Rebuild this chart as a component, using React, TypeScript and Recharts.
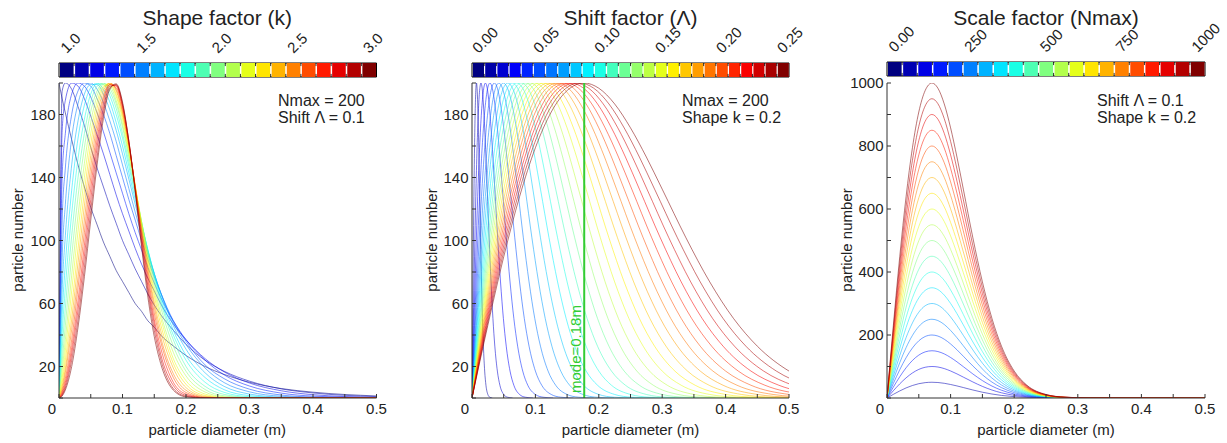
import React from 'react';
import { LineChart, Line, XAxis, YAxis, ReferenceLine, BarChart, Bar, Cell, ReferenceArea, LabelList } from 'recharts';

const FONT = '"Liberation Sans", Arial, Helvetica, sans-serif';
const TEXT = '#222';
const AXIS = '#333';

// ---------- shared axis data ----------
const diameterTicks = [0, 0.05, 0.1, 0.15, 0.2, 0.25, 0.3, 0.35, 0.4, 0.45, 0.5];
const diameterTickLabels = ['0', '', '0.1', '', '0.2', '', '0.3', '', '0.4', '', '0.5'];
const countTicks200 = [0, 20, 40, 60, 80, 100, 120, 140, 160, 180, 200];
const countLabels200 = [20, 60, 100, 140, 180];
const countTicks1000 = [0, 100, 200, 300, 400, 500, 600, 700, 800, 900, 1000];
const countLabels1000 = [200, 400, 600, 800, 1000];

// ---------- panel 1 : shape factor k ----------
const shapeLevels = [1.0, 1.1, 1.2, 1.3, 1.4, 1.5, 1.6, 1.7, 1.8, 1.9, 2.0, 2.1, 2.2, 2.3, 2.4, 2.5, 2.6, 2.7, 2.8, 2.9, 3.0];
const shapeBarLabels = ['1.0', '1.5', '2.0', '2.5', '3.0'];
const shapeBarLabelIdx = [0, 5, 10, 15, 20];
const shapeDiameters = [0, 0.005, 0.01, 0.02, 0.03, 0.04, 0.05, 0.06, 0.07, 0.08, 0.09, 0.10, 0.11, 0.12, 0.13, 0.14, 0.15, 0.16, 0.18, 0.20, 0.23, 0.26, 0.30, 0.35, 0.40, 0.50];
const shapeCurves = [
  [200, 190, 181, 164, 148, 134, 121, 110, 99, 90, 81, 74, 67, 60, 55, 49, 45, 40, 33, 27, 20, 15, 10, 6, 3.7, 1.3],
  [0, 195, 200, 196, 185, 173, 159, 146, 134, 122, 111, 100, 91, 82, 74, 66, 59, 53, 43, 34, 24, 17, 10.7, 5.8, 3.2, 0.9],
  [0, 170, 189, 200, 198, 190, 179, 167, 155, 142, 129, 117, 106, 95, 85, 76, 68, 60, 47, 37, 25, 16.6, 9.5, 4.6, 2.1, 0.4],
  [0, 141, 168, 193, 200, 198, 191, 181, 169, 156, 143, 130, 117, 105, 94, 83, 73, 64, 49, 37, 24, 14.7, 7.6, 3.1, 1.2, 0.2],
  [0, 113, 146, 180, 195, 200, 198, 190, 180, 168, 154, 140, 126, 113, 100, 88, 77, 67, 49, 36, 21, 12.3, 5.6, 1.9, 0.6, 0],
  [0, 89, 123, 165, 187, 198, 200, 196, 187.5, 176, 163, 148, 133, 118, 104, 91, 79, 67, 48, 34, 19, 9.8, 3.9, 1.1, 0.3, 0],
  [0, 69, 103, 148, 176, 193, 199, 199, 193, 183, 170, 155, 139, 123, 107, 93, 79, 67, 46, 31, 16, 7.4, 2.5, 0.5, 0, 0],
  [0, 53, 85, 132, 165, 186, 197, 200, 196, 188, 175, 160, 143, 126, 110, 94, 79, 65, 43, 27, 13, 5.3, 1.5, 0.25, 0, 0],
  [0, 41, 70, 117, 152, 177, 193, 199.5, 199, 192, 180, 165, 147, 129, 111, 94, 78, 63, 40, 24, 10, 3.6, 0.8, 0.1, 0, 0],
  [0, 31, 57, 103, 140, 168, 188, 198, 200, 194.6, 184, 168, 150, 131, 112, 93, 76, 61, 37, 20, 7.4, 2.3, 0.4, 0, 0, 0],
  [0, 23, 46, 90, 128, 159, 182, 195, 200, 196.7, 187, 172, 153, 133, 112, 92, 74, 58, 33, 17, 5.4, 1.4, 0.2, 0, 0, 0],
  [0, 17.5, 37, 78, 116, 149, 175, 192, 199, 198, 189, 174, 155, 134, 112, 90, 71, 54, 29, 14, 3.8, 0.8, 0, 0, 0, 0],
  [0, 13, 30, 68, 106, 140, 168, 188, 198, 199, 191.5, 177, 157, 134, 111, 88, 68, 51, 25, 11, 2.5, 0.4, 0, 0, 0, 0],
  [0, 10, 24, 58, 95, 131, 161, 184, 197, 200, 193, 179, 158, 135, 110, 86, 65, 47, 22, 8.7, 1.6, 0.2, 0, 0, 0, 0],
  [0, 7.4, 19, 50, 86, 122, 154, 179, 195, 200, 195, 181, 160, 135, 108, 83, 61, 43, 19, 6.6, 1.0, 0.1, 0, 0, 0, 0],
  [0, 5.5, 16, 43.5, 77, 113, 147, 174, 192, 200, 196, 182, 161, 134, 107, 81, 58, 39, 15.5, 4.9, 0.6, 0, 0, 0, 0, 0],
  [0, 4.1, 12.5, 37, 70, 105, 140, 169, 190, 199, 197, 184, 161, 134, 105, 78, 54, 36, 13, 3.5, 0.3, 0, 0, 0, 0, 0],
  [0, 3.1, 10, 32, 62, 97, 133, 164, 187, 199, 198, 185, 162, 133, 103, 75, 50, 32, 10, 2.5, 0.15, 0, 0, 0, 0, 0],
  [0, 2.3, 8, 28, 56, 90, 126, 159, 184, 198, 198.6, 186, 163, 133, 101, 71, 47, 28, 8, 1.7, 0.1, 0, 0, 0, 0, 0],
  [0, 1.7, 6.4, 24, 50, 83, 119, 153, 181, 197, 199, 187, 163, 132, 98, 68, 43, 25, 6, 1.1, 0, 0, 0, 0, 0, 0],
  [0, 1.3, 5.1, 20, 45, 77, 113, 148, 177.5, 196, 199.5, 188, 163, 131, 96, 64, 39, 22, 5, 0.7, 0, 0, 0, 0, 0, 0],
];

// ---------- panel 2 : shift factor Lambda ----------
const shiftLevels = [0, 0.01, 0.02, 0.03, 0.04, 0.05, 0.06, 0.07, 0.08, 0.09, 0.10, 0.11, 0.12, 0.13, 0.14, 0.15, 0.16, 0.17, 0.18, 0.19, 0.20, 0.21, 0.22, 0.23, 0.24, 0.25];
const shiftBarLabels = ['0.00', '0.05', '0.10', '0.15', '0.20', '0.25'];
const shiftBarLabelIdx = [0, 5, 10, 15, 20, 25];
const shiftCounts = [0, 46.2, 89.6, 127.8, 158.9, 181.6, 195.2, 200, 196.7, 186.7, 171.5, 153.0, 132.6, 101.7, 73.7, 50.5, 32.9, 17.1, 8.1, 2.25, 0.51, 0];
const shiftDiameters = [
  [0, .001, .002, .003, .004, .005, .006, .00707, .008, .009, .01, .011, .012, .0135, .015, .0165, .018, .02, .022, .025, .028, .032],
  [0, .002, .004, .006, .008, .01, .012, .01414, .016, .018, .02, .022, .024, .027, .03, .033, .036, .04, .044, .05, .056, .064],
  [0, .003, .006, .009, .012, .015, .018, .02121, .024, .027, .03, .033, .036, .0405, .045, .0495, .054, .06, .066, .075, .084, .096],
  [0, .004, .008, .012, .016, .02, .024, .02828, .032, .036, .04, .044, .048, .054, .06, .066, .072, .08, .088, .1, .112, .128],
  [0, .005, .01, .015, .02, .025, .03, .03536, .04, .045, .05, .055, .06, .0675, .075, .0825, .09, .1, .11, .125, .14, .16],
  [0, .006, .012, .018, .024, .03, .036, .04243, .048, .054, .06, .066, .072, .081, .09, .099, .108, .12, .132, .15, .168, .192],
  [0, .007, .014, .021, .028, .035, .042, .0495, .056, .063, .07, .077, .084, .0945, .105, .1155, .126, .14, .154, .175, .196, .224],
  [0, .008, .016, .024, .032, .04, .048, .05657, .064, .072, .08, .088, .096, .108, .12, .132, .144, .16, .176, .2, .224, .256],
  [0, .009, .018, .027, .036, .045, .054, .06364, .072, .081, .09, .099, .108, .1215, .135, .1485, .162, .18, .198, .225, .252, .288],
  [0, .01, .02, .03, .04, .05, .06, .07071, .08, .09, .1, .11, .12, .135, .15, .165, .18, .2, .22, .25, .28, .32],
  [0, .011, .022, .033, .044, .055, .066, .07778, .088, .099, .11, .121, .132, .1485, .165, .1815, .198, .22, .242, .275, .308, .352],
  [0, .012, .024, .036, .048, .06, .072, .08485, .096, .108, .12, .132, .144, .162, .18, .198, .216, .24, .264, .3, .336, .384],
  [0, .013, .026, .039, .052, .065, .078, .09192, .104, .117, .13, .143, .156, .1755, .195, .2145, .234, .26, .286, .325, .364, .416],
  [0, .014, .028, .042, .056, .07, .084, .09899, .112, .126, .14, .154, .168, .189, .21, .231, .252, .28, .308, .35, .392, .448],
  [0, .015, .03, .045, .06, .075, .09, .10607, .12, .135, .15, .165, .18, .2025, .225, .2475, .27, .3, .33, .375, .42, .48],
  [0, .016, .032, .048, .064, .08, .096, .11314, .128, .144, .16, .176, .192, .216, .24, .264, .288, .32, .352, .4, .448, .512],
  [0, .017, .034, .051, .068, .085, .102, .12021, .136, .153, .17, .187, .204, .2295, .255, .2805, .306, .34, .374, .425, .476, .544],
  [0, .018, .036, .054, .072, .09, .108, .12728, .144, .162, .18, .198, .216, .243, .27, .297, .324, .36, .396, .45, .504, .576],
  [0, .019, .038, .057, .076, .095, .114, .13435, .152, .171, .19, .209, .228, .2565, .285, .3135, .342, .38, .418, .475, .532, .608],
  [0, .02, .04, .06, .08, .1, .12, .14142, .16, .18, .2, .22, .24, .27, .3, .33, .36, .4, .44, .5, .56, .64],
  [0, .021, .042, .063, .084, .105, .126, .14849, .168, .189, .21, .231, .252, .2835, .315, .3465, .378, .42, .462, .525, .588, .672],
  [0, .022, .044, .066, .088, .11, .132, .15556, .176, .198, .22, .242, .264, .297, .33, .363, .396, .44, .484, .55, .616, .704],
  [0, .023, .046, .069, .092, .115, .138, .16263, .184, .207, .23, .253, .276, .3105, .345, .3795, .414, .46, .506, .575, .644, .736],
  [0, .024, .048, .072, .096, .12, .144, .16971, .192, .216, .24, .264, .288, .324, .36, .396, .432, .48, .528, .6, .672, .768],
  [0, .025, .05, .075, .1, .125, .15, .17678, .2, .225, .25, .275, .3, .3375, .375, .4125, .45, .5, .55, .625, .7, .8],
];
const modeDiameter = 0.177;
const modeLabel = 'mode=0.18m';

// ---------- panel 3 : scale factor Nmax ----------
const scaleLevels = [0, 50, 100, 150, 200, 250, 300, 350, 400, 450, 500, 550, 600, 650, 700, 750, 800, 850, 900, 950, 1000];
const scaleBarLabels = ['0.00', '250', '500', '750', '1000'];
const scaleBarLabelIdx = [0, 5, 10, 15, 20];
const scaleDiameters = [0, .01, .02, .03, .04, .05, .06, .0707, .08, .09, .1, .11, .12, .135, .15, .165, .18, .2, .22, .25, .28, .32, .5];
const scaleCurves = [
  [0, 11.6, 22.4, 32, 39.7, 45.4, 48.8, 50, 49.2, 46.7, 42.9, 38.3, 33.2, 25.4, 18.4, 12.6, 8.2, 4.3, 2.0, 0.6, 0.1, 0, 0],
  [0, 23.1, 44.8, 63.9, 79.5, 90.8, 97.6, 100, 98.4, 93.4, 85.8, 76.5, 66.3, 50.9, 36.9, 25.3, 16.5, 8.6, 4.1, 1.1, 0.3, 0, 0],
  [0, 34.7, 67.2, 95.9, 119.2, 136.2, 146.4, 150, 147.5, 140, 128.6, 114.8, 99.5, 76.3, 55.3, 37.9, 24.7, 12.8, 6.1, 1.7, 0.4, 0, 0],
  [0, 46.2, 89.6, 127.8, 158.9, 181.6, 195.2, 200, 196.7, 186.7, 171.5, 153, 132.6, 101.7, 73.7, 50.5, 32.9, 17.1, 8.1, 2.3, 0.5, 0, 0],
  [0, 57.8, 112, 159.8, 198.7, 227, 244, 250, 245.9, 233.4, 214.4, 191.3, 165.8, 127.2, 92.2, 63.2, 41.2, 21.4, 10.2, 2.8, 0.7, 0, 0],
  [0, 69.3, 134.4, 191.7, 238.4, 272.4, 292.8, 300, 295.1, 280.1, 257.3, 229.5, 198.9, 152.6, 110.6, 75.8, 49.4, 25.7, 12.2, 3.4, 0.8, 0.1, 0],
  [0, 80.9, 156.8, 223.7, 278.1, 317.8, 341.6, 350, 344.3, 326.8, 300.2, 267.8, 232.1, 178, 129, 88.4, 57.6, 30, 14.2, 3.9, 0.9, 0.1, 0],
  [0, 92.4, 179.2, 255.6, 317.8, 363.2, 390.4, 400, 393.4, 373.4, 343, 306, 265.2, 203.4, 147.4, 101, 65.8, 34.2, 16.2, 4.5, 1, 0.1, 0],
  [0, 104, 201.6, 287.6, 357.6, 408.6, 439.2, 450, 442.6, 420.1, 385.9, 344.3, 298.4, 228.9, 165.9, 113.7, 74.1, 38.5, 18.3, 5, 1.2, 0.1, 0],
  [0, 115.5, 224, 319.5, 397.3, 454, 488, 500, 491.8, 466.8, 428.8, 382.5, 331.5, 254.3, 184.3, 126.3, 82.3, 42.8, 20.3, 5.6, 1.3, 0.1, 0],
  [0, 127.1, 246.4, 351.5, 437, 499.4, 536.8, 550, 541, 513.5, 471.7, 420.8, 364.7, 279.7, 202.7, 138.9, 90.5, 47.1, 22.3, 6.2, 1.4, 0.1, 0],
  [0, 138.6, 268.8, 383.4, 476.8, 544.8, 585.6, 600, 590.2, 560.2, 514.6, 459, 397.8, 305.2, 221.2, 151.6, 98.8, 51.4, 24.4, 6.7, 1.6, 0.1, 0],
  [0, 150.2, 291.2, 415.4, 516.5, 590.2, 634.4, 650, 639.3, 606.8, 557.4, 497.3, 431, 330.6, 239.6, 164.2, 107, 55.6, 26.4, 7.3, 1.7, 0.1, 0],
  [0, 161.7, 313.6, 447.3, 556.2, 635.6, 683.2, 700, 688.5, 653.5, 600.3, 535.5, 464.1, 356, 258, 176.8, 115.2, 59.9, 28.4, 7.8, 1.8, 0.1, 0],
  [0, 173.3, 336, 479.3, 596, 681, 732, 750, 737.7, 700.2, 643.2, 573.8, 497.3, 381.5, 276.5, 189.5, 123.5, 64.2, 30.5, 8.4, 2, 0.2, 0],
  [0, 184.8, 358.4, 511.2, 635.7, 726.4, 780.8, 800, 786.9, 746.9, 686.1, 612, 530.4, 406.9, 294.9, 202.1, 131.7, 68.5, 32.5, 9, 2.1, 0.2, 0],
  [0, 196.4, 380.8, 543.2, 675.4, 771.8, 829.6, 850, 836.1, 793.6, 729, 650.3, 563.6, 432.3, 313.3, 214.7, 139.9, 72.8, 34.5, 9.5, 2.2, 0.2, 0],
  [0, 207.9, 403.2, 575.1, 715.1, 817.2, 878.4, 900, 885.2, 840.2, 771.8, 688.5, 596.7, 457.7, 331.7, 227.3, 148.1, 77, 36.5, 10.1, 2.3, 0.2, 0],
  [0, 219.5, 425.6, 607.1, 754.9, 862.6, 927.2, 950, 934.4, 886.9, 814.7, 726.8, 629.9, 483.2, 350.2, 240, 156.4, 81.3, 38.6, 10.6, 2.5, 0.2, 0],
  [0, 231, 448, 639, 794.6, 908, 976, 1000, 983.6, 933.6, 857.6, 765, 663, 508.6, 368.6, 252.6, 164.6, 85.6, 40.6, 11.2, 2.6, 0.2, 0],
];

// ---------- styling helpers ----------
function jet(t: number): string {
  const c = (v: number) => Math.round(255 * Math.max(0, Math.min(1, v)));
  return `rgb(${c(1.5 - Math.abs(4 * t - 3))},${c(1.5 - Math.abs(4 * t - 2))},${c(1.5 - Math.abs(4 * t - 1))})`;
}

const PLOT_TOP = 83;
const PLOT_BOTTOM = 398;
const H = 443;

const renderXTick = (props: any) => {
  const { x, y, payload } = props;
  const i = diameterTicks.findIndex((t) => Math.abs(t - payload.value) < 1e-9);
  const label = i >= 0 ? diameterTickLabels[i] : '';
  if (!label) return <g />;
  return (
    <text x={x + (payload.value === 0 ? -7 : 0)} y={y} dy="0.71em" textAnchor="middle" fontSize={15} fontFamily={FONT} fill={TEXT}>
      {label}
    </text>
  );
};

const makeYTick = (labels: number[]) => (props: any) => {
  const { x, y, payload } = props;
  if (!labels.includes(payload.value)) return <g />;
  return (
    <text x={x} y={y} dy="0.36em" textAnchor="end" fontSize={15} fontFamily={FONT} fill={TEXT}>
      {payload.value}
    </text>
  );
};

type Series = { color: string; data: { x: number; y: number }[] };

function Panel(props: { left: number; right: number; yMax: number; yTicks: number[]; yLabels: number[]; series: Series[]; children?: React.ReactNode }) {
  const { left, right, yMax, yTicks, yLabels, series, children } = props;
  const YW = 60;
  const RM = 12;
  const w = YW + (right - left) + RM;
  return (
    <div style={{ position: 'absolute', left: left - YW, top: 0 }}>
      <LineChart width={w} height={H} margin={{ top: PLOT_TOP, right: RM, bottom: H - PLOT_BOTTOM - 30, left: 0 }}>
        <XAxis xAxisId="b" dataKey="x" type="number" domain={[0, 0.5]} ticks={diameterTicks} interval={0} allowDataOverflow orientation="bottom" height={30} tickSize={-4} tickMargin={9} stroke={AXIS} tick={renderXTick} />
        <XAxis xAxisId="t" dataKey="x" type="number" domain={[0, 0.5]} ticks={diameterTicks} interval={0} allowDataOverflow orientation="top" height={0} tickSize={-4} tick={false} stroke={AXIS} />
        <YAxis yAxisId="l" type="number" domain={[0, yMax]} ticks={yTicks} interval={0} allowDataOverflow width={YW} tickSize={-4} tickMargin={7.5} tick={makeYTick(yLabels)} stroke={AXIS} />
        <YAxis yAxisId="r" orientation="right" type="number" domain={[0, yMax]} ticks={yTicks} interval={0} allowDataOverflow width={0} tickSize={-4} tick={false} stroke={AXIS} />
        {series.map((s, i) => (
          <Line key={i} xAxisId="b" yAxisId="l" data={s.data} dataKey="y" type="monotone" stroke={s.color} strokeWidth={0.9} strokeOpacity={0.6} dot={false} activeDot={false} isAnimationActive={false} />
        ))}
        {children}
      </LineChart>
    </div>
  );
}

function ColorBar(props: { left: number; right: number; top: number; bottom: number; levels: number[]; labels: string[]; labelIdx: number[] }) {
  const { left, right, top, bottom, levels, labels, labelIdx } = props;
  const n = levels.length;
  const PL = 12;
  const PR = 40;
  const cellW = (right - left) / n;
  const data = levels.map((v, i) => {
    const k = labelIdx.indexOf(i);
    return { pos: i + 0.5, one: 1, level: v, tag: k >= 0 ? labels[k] : '' };
  });
  const boundaries = levels.slice(1).map((_, i) => i + 1);
  const renderLabel = (p: any) => {
    if (!p.value) return <g />;
    const ax = Number(p.x) + Number(p.width) / 2;
    const ay = top - 9;
    return (
      <text x={ax} y={ay} transform={`rotate(-45 ${ax} ${ay})`} textAnchor="start" fontSize={15} fontFamily={FONT} fill={TEXT}>
        {p.value}
      </text>
    );
  };
  return (
    <div style={{ position: 'absolute', left: left - PL, top: 0 }}>
      <BarChart width={right - left + PL + PR} height={bottom + 2} data={data} margin={{ top, right: PR, bottom: 2, left: PL }} barGap={0} barCategoryGap={0}>
        <XAxis hide dataKey="pos" type="number" domain={[0, n]} allowDataOverflow />
        <YAxis hide type="number" domain={[0, 1]} allowDataOverflow />
        <Bar dataKey="one" barSize={cellW + 0.6} isAnimationActive={false}>
          {levels.map((_, i) => (
            <Cell key={i} fill={jet(i / (n - 1))} stroke="none" />
          ))}
          <LabelList dataKey="tag" content={renderLabel} />
        </Bar>
        {boundaries.map((b) => (
          <ReferenceLine key={'b' + b} segment={[{ x: b, y: 0 }, { x: b, y: 0.22 }]} stroke="#000" strokeWidth={0.8} />
        ))}
        {boundaries.map((b) => (
          <ReferenceLine key={'t' + b} segment={[{ x: b, y: 0.78 }, { x: b, y: 1 }]} stroke="#000" strokeWidth={0.8} />
        ))}
        <ReferenceArea x1={0} x2={n} y1={0} y2={1} fill="none" fillOpacity={0} stroke="#000" strokeWidth={1} ifOverflow="visible" />
      </BarChart>
    </div>
  );
}

const P1 = { left: 58.5, right: 376, note: 219.5 };
const P2 = { left: 472, right: 789, note: 210 };
const P3 = { left: 887, right: 1205, note: 210 };

export default function App() {
  const shapeSeries: Series[] = shapeCurves.map((ys, i) => ({
    color: jet(i / (shapeLevels.length - 1)),
    data: shapeDiameters.map((x, j) => ({ x, y: ys[j] })),
  }));
  const shiftSeries: Series[] = shiftDiameters.map((xs, i) => ({
    color: jet((i + 1) / (shiftLevels.length - 1)),
    data: xs.map((x, j) => ({ x, y: shiftCounts[j] })),
  }));
  const scaleSeries: Series[] = scaleCurves.map((ys, i) => ({
    color: jet((i + 1) / (scaleLevels.length - 1)),
    data: scaleDiameters.map((x, j) => ({ x, y: ys[j] })),
  }));

  const modeLabelRender = (p: any) => {
    const vb = p.viewBox || {};
    const lx = (vb.x ?? 0) - 3;
    const by = (vb.y ?? 0) + (vb.height ?? 0) - 5;
    return (
      <text x={lx} y={by} transform={`rotate(-90 ${lx} ${by})`} textAnchor="start" fontSize={15} fontFamily={FONT} fill="#33cc33">
        {modeLabel}
      </text>
    );
  };

  const titles = [
    { text: 'Shape factor (k)', p: P1 },
    { text: 'Shift factor (\u039B)', p: P2 },
    { text: 'Scale factor (Nmax)', p: P3 },
  ];
  const notes = [
    { p: P1, a: 'Nmax = 200', b: 'Shift \u039B = 0.1' },
    { p: P2, a: 'Nmax = 200', b: 'Shape k = 0.2' },
    { p: P3, a: 'Shift \u039B = 0.1', b: 'Shape k = 0.2' },
  ];

  return (
    <div style={{ position: 'absolute', left: 0, top: 0, width: 1227, height: 443, background: '#fff', overflow: 'hidden' }}>
      <ColorBar left={P1.left} right={P1.right} top={63} bottom={77} levels={shapeLevels} labels={shapeBarLabels} labelIdx={shapeBarLabelIdx} />
      <ColorBar left={P2.left} right={P2.right} top={63} bottom={77} levels={shiftLevels} labels={shiftBarLabels} labelIdx={shiftBarLabelIdx} />
      <ColorBar left={P3.left} right={P3.right} top={62} bottom={76} levels={scaleLevels} labels={scaleBarLabels} labelIdx={scaleBarLabelIdx} />

      <Panel left={P1.left} right={P1.right} yMax={200} yTicks={countTicks200} yLabels={countLabels200} series={shapeSeries} />
      <Panel left={P2.left} right={P2.right} yMax={200} yTicks={countTicks200} yLabels={countLabels200} series={shiftSeries}>
        <ReferenceLine xAxisId="b" yAxisId="l" x={modeDiameter} stroke="#33cc33" strokeWidth={2} label={modeLabelRender} />
      </Panel>
      <Panel left={P3.left} right={P3.right} yMax={1000} yTicks={countTicks1000} yLabels={countLabels1000} series={scaleSeries} />

      <svg width={1227} height={443} style={{ position: 'absolute', left: 0, top: 0, pointerEvents: 'none' }}>
        {titles.map((t, i) => (
          <text key={'t' + i} x={(t.p.left + t.p.right) / 2} y={25} textAnchor="middle" fontSize={21} fontFamily={FONT} fill={TEXT}>
            {t.text}
          </text>
        ))}
        {notes.map((n, i) => (
          <g key={'n' + i}>
            <text x={n.p.left + n.p.note} y={106} fontSize={16} fontFamily={FONT} fill={TEXT}>{n.a}</text>
            <text x={n.p.left + n.p.note} y={123} fontSize={16} fontFamily={FONT} fill={TEXT}>{n.b}</text>
          </g>
        ))}
        {[P1, P2, P3].map((p, i) => (
          <g key={'a' + i}>
            <text x={(p.left + p.right) / 2} y={435} textAnchor="middle" fontSize={15} fontFamily={FONT} fill={TEXT}>
              particle diameter (m)
            </text>
            <text x={p.left - 41} y={240} transform={`rotate(-90 ${p.left - 41} 240)`} textAnchor="middle" dominantBaseline="central" fontSize={15} fontFamily={FONT} fill={TEXT}>
              particle number
            </text>
          </g>
        ))}
      </svg>
    </div>
  );
}
